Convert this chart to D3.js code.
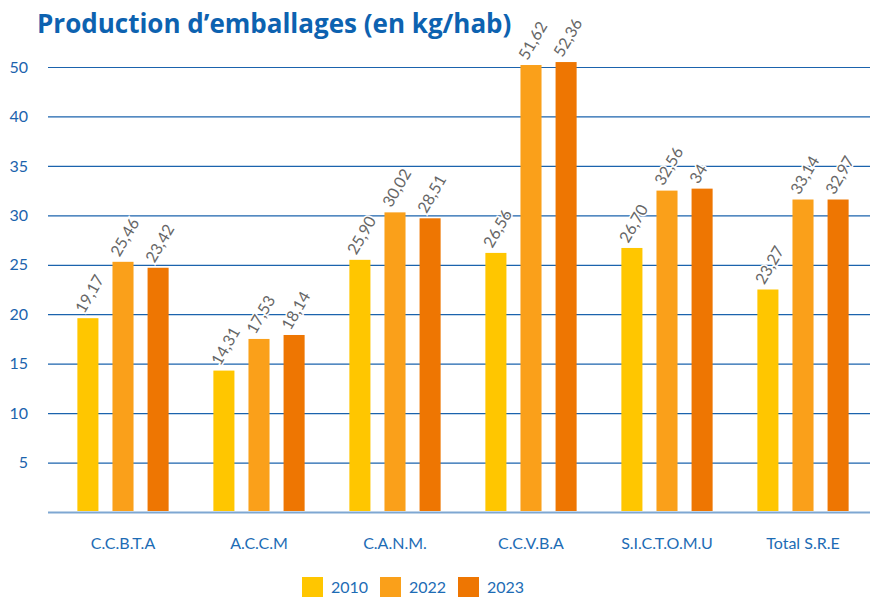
<!DOCTYPE html>
<html>
  <head>
    <meta http-equiv="Content-Type" content="text/html;charset=utf-8">
    <title>Production d'emballages</title>
    <script src="https://d3js.org/d3.v7.min.js"></script>
    <style>
      html, body {
        margin: 0;
        padding: 0;
        background: #fff;
      }
      text {
        font-family: Lato, "Open Sans", sans-serif;
      }
    </style>
  </head>
  <body>
  <script type="text/javascript">

// categories and series
var categories = ["C.C.B.T.A", "A.C.C.M", "C.A.N.M.", "C.C.V.B.A", "S.I.C.T.O.M.U", "Total S.R.E"];
var series = ["2010", "2022", "2023"];

// bar heights as drawn in the picture
var values2010 = [19.6, 14.3, 25.5, 26.2, 26.7, 22.5];
var values2022 = [25.3, 17.5, 30.3, 45.2, 32.5, 31.6];
var values2023 = [24.7, 17.9, 29.7, 45.5, 32.7, 31.6];

// printed value labels
var labels2010 = ["19,17", "14,31", "25,90", "26,56", "26,70", "23,27"];
var labels2022 = ["25,46", "17,53", "30,02", "51,62", "32,56", "33,14"];
var labels2023 = ["23,42", "18,14", "28,51", "52,36", "34", "32,97"];

// y axis ticks (last tick is printed "50")
var tickValues = [5, 10, 15, 20, 25, 30, 35, 40, 45];
var tickLabels = ["5", "10", "15", "20", "25", "30", "35", "40", "50"];

var colors = ["#ffc600", "#faa01a", "#ee7602"];
var blue = "#1b63ad";

var width = 870, height = 597;

var svg = d3.select("body").append("svg")
    .attr("width", width)
    .attr("height", height);

var x0 = d3.scaleBand()
    .domain(categories)
    .range([55, 871])
    .paddingInner(0.2)
    .paddingOuter(0.1);

var x1 = d3.scaleBand()
    .domain(series)
    .range([0, x0.bandwidth()])
    .paddingInner(0.4)
    .paddingOuter(0.25);

var y = d3.scaleLinear()
    .domain([0, 45])
    .range([512, 67]);

var rows = [values2010, values2022, values2023];
var labs = [labels2010, labels2022, labels2023];

// title
svg.append("text")
    .attr("x", 37)
    .attr("y", 33)
    .attr("fill", "#0d62b0")
    .style("font-family", "'Open Sans', sans-serif")
    .style("font-size", "26px")
    .style("font-weight", "bold")
    .text("Production d\u2019emballages (en kg/hab)");

// gridlines + tick labels
var yAxis = svg.append("g")
    .attr("transform", "translate(48,0)")
    .call(d3.axisLeft(y)
        .tickValues(tickValues)
        .tickSize(-822)
        .tickPadding(20)
        .tickFormat(function(d, i) { return tickLabels[i]; }));

yAxis.select(".domain").remove();
yAxis.selectAll(".tick line")
    .attr("stroke", blue)
    .attr("stroke-width", 1.2);
yAxis.selectAll(".tick text")
    .attr("fill", blue)
    .style("font-size", "16px")
    .style("font-family", "Lato, sans-serif");

// baseline
svg.append("line")
    .attr("x1", 48).attr("x2", 870)
    .attr("y1", y(0) + 0.5).attr("y2", y(0) + 0.5)
    .attr("stroke", "#7ea7d2")
    .attr("stroke-width", 2);

// bars
var groups = svg.selectAll("g.grp")
    .data(categories)
    .enter().append("g")
    .attr("class", "grp")
    .attr("transform", function(d) { return "translate(" + x0(d) + ",0)"; });

groups.selectAll("rect")
    .data(function(d, i) {
      return series.map(function(s, j) { return {s: s, j: j, v: rows[j][i], l: labs[j][i]}; });
    })
    .enter().append("rect")
    .attr("x", function(d) { return x1(d.s); })
    .attr("width", x1.bandwidth())
    .attr("y", function(d) { return y(d.v); })
    .attr("height", function(d) { return y(0) - 1 - y(d.v); })
    .attr("fill", function(d) { return colors[d.j]; });

// value labels
groups.selectAll("text.val")
    .data(function(d, i) {
      return series.map(function(s, j) { return {s: s, j: j, v: rows[j][i], l: labs[j][i]}; });
    })
    .enter().append("text")
    .attr("class", "val")
    .attr("transform", function(d) {
      return "translate(" + (x1(d.s) + 7) + "," + (y(d.v) - 4) + ") rotate(-60)";
    })
    .attr("fill", "#666")
    .attr("stroke", "#fff")
    .attr("stroke-width", 3)
    .attr("paint-order", "stroke")
    .style("font-size", "16px")
    .text(function(d) { return d.l; });

// category labels
svg.selectAll("text.cat")
    .data(categories)
    .enter().append("text")
    .attr("class", "cat")
    .attr("x", function(d) { return x0(d) + x0.bandwidth() / 2; })
    .attr("y", 549)
    .attr("text-anchor", "middle")
    .attr("fill", "#1d6cb5")
    .style("font-size", "16px")
    .text(function(d) { return d; });

// legend
var legend = svg.selectAll("g.leg")
    .data(series)
    .enter().append("g")
    .attr("class", "leg")
    .attr("transform", function(d, i) { return "translate(" + (302 + i * 78) + ",577)"; });

legend.append("rect")
    .attr("width", 21)
    .attr("height", 20)
    .attr("fill", function(d, i) { return colors[i]; });

legend.append("text")
    .attr("x", 29)
    .attr("y", 16)
    .attr("fill", "#1d6cb5")
    .style("font-size", "16px")
    .text(function(d) { return d; });

  </script>
  </body>
</html>
